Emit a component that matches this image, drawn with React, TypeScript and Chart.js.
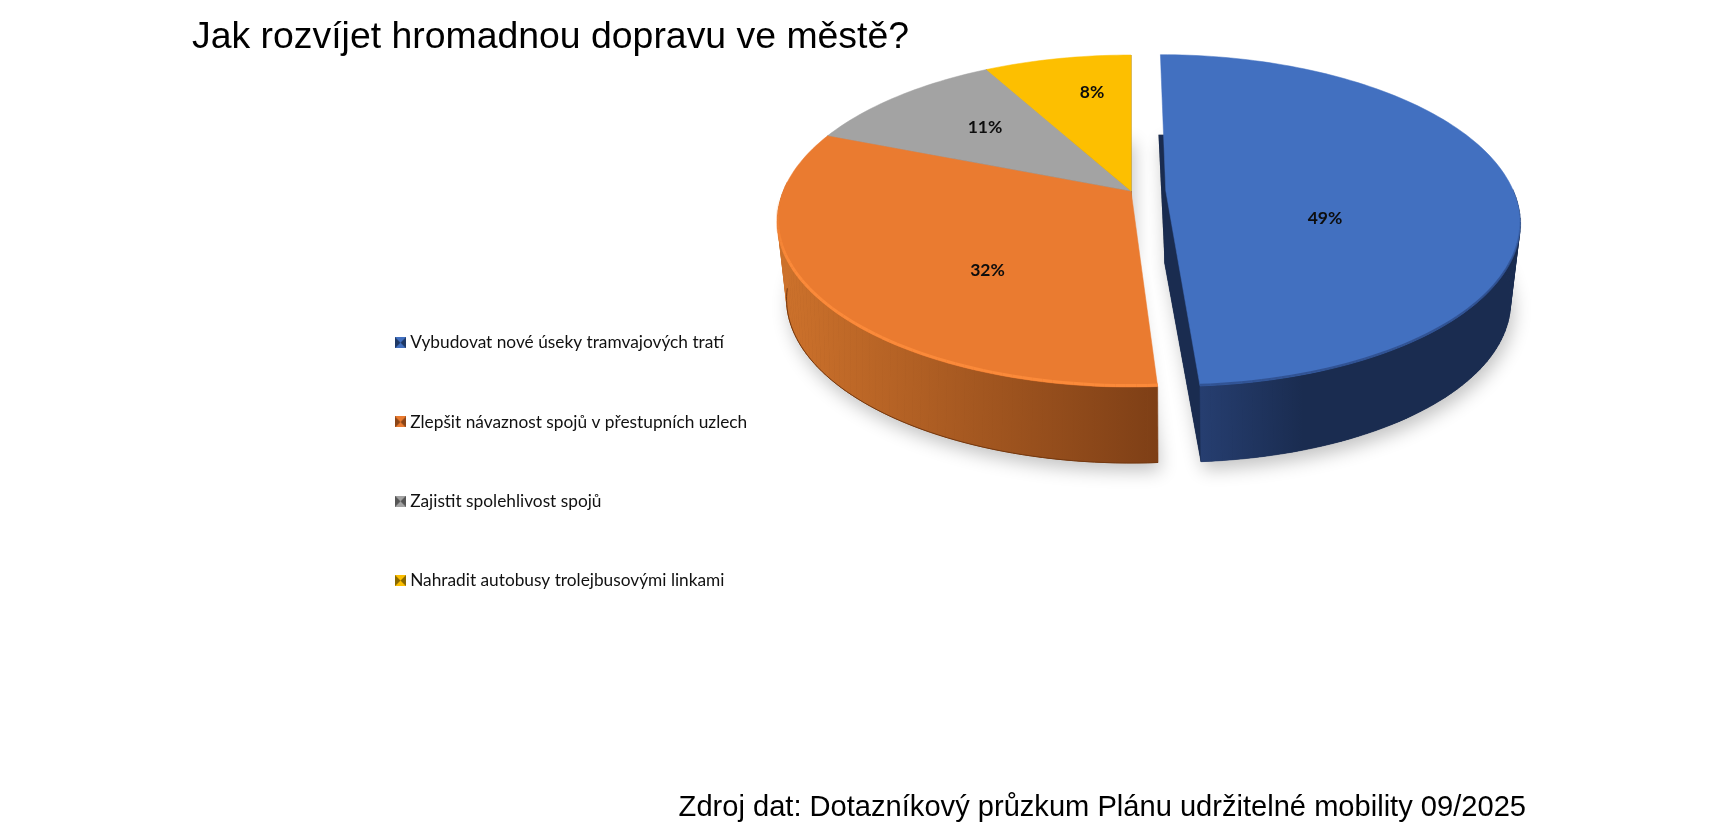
import React, { useEffect, useRef } from "react";
import { Chart, registerables } from "chart.js";

Chart.register(...registerables);

const titleText = "Jak rozvíjet hromadnou dopravu ve městě?";
const sourceText = "Zdroj dat: Dotazníkový průzkum Plánu udržitelné mobility 09/2025";
const categories = [
  "Vybudovat nové úseky tramvajových tratí",
  "Zlepšit návaznost spojů v přestupních uzlech",
  "Zajistit spolehlivost spojů",
  "Nahradit autobusy trolejbusovými linkami",
];
const shares = [49, 32, 11, 8];
const explode = [32, 0, 0, 0];

const faceColors = ["#4270C0", "#EA7B30", "#A3A3A3", "#FDBF00"];
const cutColors = ["#1A2C50", "#8A4518", "#666666", "#A07800"];
const bevelColors = ["rgba(38,64,118,0.6)", "#FB8A3A", "#A3A3A3", "#FDBF00"];
const sideStops: [number, string][][] = [
  [[0, "#263E70"], [0.33, "#1A2C50"], [1, "#1A2C50"]],
  [[0, "#CC712B"], [1, "#7E3F16"]],
  [[0, "#777777"], [1, "#555555"]],
  [[0, "#B08600"], [1, "#8A6900"]],
];
const markerEdge = ["#1F3864", "#8A4518", "#555555", "#8A6900"];
const labelNudge: [number, number][] = [[194, 27.5], [-143.5, 79.5], [-146, -64], [-39, -99]];

type Disk = { a: number; s: number; k: number; y0: number };
const VIEW_CX = 1131;
const TOP: Disk = { a: 347.7, s: 160.6, k: 0.181, y0: 191 };
const BOTTOM: Disk = { a: 336, s: 156, k: 0.22, y0: 263 };
const LEGEND_X = 399.5;
const LEGEND_Y = 334;

function project(u: number, v: number, d: Disk): [number, number] {
  const w = 1 - d.k * v;
  return [VIEW_CX + (d.a * u) / w, d.y0 + (d.s * v) / w];
}

function rim(arc: any, d: Disk, from?: number, to?: number) {
  const mid = (arc.startAngle + arc.endAngle) / 2;
  const e = (arc.options.offset || 0) / arc.outerRadius;
  const du = e * Math.cos(mid);
  const dv = e * Math.sin(mid);
  const a0 = from ?? arc.startAngle;
  const a1 = to ?? arc.endAngle;
  const n = Math.max(2, Math.ceil((a1 - a0) * 40));
  const pts: [number, number][] = [];
  for (let i = 0; i <= n; i++) {
    const a = a0 + ((a1 - a0) * i) / n;
    pts.push(project(Math.cos(a) + du, Math.sin(a) + dv, d));
  }
  return { pts, apex: project(du, dv, d) };
}

function slicePath(ctx: CanvasRenderingContext2D, arc: any, d: Disk) {
  const { pts, apex } = rim(arc, d);
  ctx.beginPath();
  ctx.moveTo(apex[0], apex[1]);
  pts.forEach((p) => ctx.lineTo(p[0], p[1]));
  ctx.closePath();
}

function quad(ctx: CanvasRenderingContext2D, a: number[], b: number[], c: number[], e: number[]) {
  ctx.beginPath();
  ctx.moveTo(a[0], a[1]);
  ctx.lineTo(b[0], b[1]);
  ctx.lineTo(c[0], c[1]);
  ctx.lineTo(e[0], e[1]);
  ctx.closePath();
  ctx.fill();
  ctx.stroke();
}

const pie3d = {
  id: "pie3d",
  beforeDraw(chart: any) {
    const legend = chart.legend;
    const pad = legend.options.labels.padding;
    const w = legend.width;
    const h = legend.height;
    legend.left = LEGEND_X - pad;
    legend.right = legend.left + w + 4;
    legend.top = LEGEND_Y - pad;
    legend.bottom = legend.top + h + 20;
  },
  beforeDatasetsDraw(chart: any) {
    const ctx: CanvasRenderingContext2D = chart.ctx;
    const arcs: any[] = chart.getDatasetMeta(0).data;
    ctx.save();
    ctx.lineJoin = "round";

    // soft shadow cast by the lower disk
    arcs.forEach((arc) => {
      ctx.save();
      ctx.shadowColor = "rgba(0,0,0,0.24)";
      ctx.shadowBlur = 18;
      ctx.shadowOffsetX = 3;
      ctx.shadowOffsetY = 8;
      ctx.fillStyle = "#888888";
      slicePath(ctx, arc, BOTTOM);
      ctx.fill();
      ctx.restore();
    });

    // walls
    [2, 3, 1, 0].forEach((i) => {
      const arc = arcs[i];
      const t = rim(arc, TOP);
      const b = rim(arc, BOTTOM);
      ctx.fillStyle = cutColors[i];
      ctx.strokeStyle = cutColors[i];
      ctx.lineWidth = 0.6;
      slicePath(ctx, arc, BOTTOM);
      ctx.fill();
      quad(ctx, t.apex, t.pts[t.pts.length - 1], b.pts[b.pts.length - 1], b.apex);

      const front = b.pts.map((p) => p[0]);
      const frontIdx = b.pts
        .map((p, k) => (p[1] > BOTTOM.y0 + 10 ? k : -1))
        .filter((k) => k >= 0);
      const xs = frontIdx.length ? frontIdx.map((k) => front[k]) : front;
      const g = ctx.createLinearGradient(Math.min(...xs), 0, Math.max(...xs), 0);
      sideStops[i].forEach(([p, c]) => g.addColorStop(p, c));
      ctx.fillStyle = g;
      ctx.strokeStyle = g;
      for (let k = 0; k < t.pts.length - 1; k++) {
        if (b.pts[k][1] < BOTTOM.y0 - 5 && t.pts[k][1] < TOP.y0 - 5) continue;
        quad(ctx, t.pts[k], t.pts[k + 1], b.pts[k + 1], b.pts[k]);
      }
      if (i === 1) {
        ctx.strokeStyle = "#74380F";
        ctx.lineWidth = 1;
        const low = rim(arc, BOTTOM, arc.startAngle, Math.PI * 0.95);
        ctx.beginPath();
        low.pts.forEach((p, k) => (k ? ctx.lineTo(p[0], p[1]) : ctx.moveTo(p[0], p[1])));
        ctx.stroke();
      }
    });

    // top faces with a tapered bevel along the front rim
    arcs.forEach((arc, i) => {
      ctx.fillStyle = faceColors[i];
      ctx.strokeStyle = faceColors[i];
      ctx.lineWidth = 0.5;
      slicePath(ctx, arc, TOP);
      ctx.fill();
      ctx.stroke();
      if (i < 2) {
        const from = i === 1 ? arc.startAngle : 0.1;
        const to = i === 1 ? Math.PI * 0.98 : arc.endAngle;
        const edge = rim(arc, TOP, from, to).pts;
        ctx.strokeStyle = bevelColors[i];
        ctx.lineWidth = i === 1 ? 3 : 2;
        ctx.lineCap = "butt";
        const inset = i === 1 ? 1.5 : 1;
        const n = edge.length - 1;
        for (let k = 0; k < n; k++) {
          const pos = k / n;
          ctx.globalAlpha = i === 1 ? Math.min(1, (1 - pos) * 4) : Math.min(1, pos * 4);
          ctx.beginPath();
          ctx.moveTo(edge[k][0], edge[k][1] - inset);
          ctx.lineTo(edge[k + 1][0], edge[k + 1][1] - inset);
          ctx.stroke();
        }
        ctx.globalAlpha = 1;
      }
    });

    // percentage labels
    ctx.fillStyle = "#0d0d0d";
    ctx.font = "bold 17.5px Lato";
    ctx.textAlign = "center";
    ctx.textBaseline = "middle";
    arcs.forEach((_arc, i) => {
      const [dx, dy] = labelNudge[i];
      ctx.fillText(`${shares[i]}%`, VIEW_CX + dx, TOP.y0 + dy);
    });
    ctx.restore();
    return false;
  },
};

function marker(i: number): HTMLCanvasElement {
  const c = document.createElement("canvas");
  c.width = 11;
  c.height = 11;
  const x = c.getContext("2d")!;
  x.fillStyle = faceColors[i];
  x.fillRect(0, 0, 11, 11);
  x.fillStyle = markerEdge[i];
  x.beginPath();
  x.moveTo(0, 0);
  x.lineTo(5.5, 5.5);
  x.lineTo(0, 11);
  x.closePath();
  x.moveTo(11, 0);
  x.lineTo(5.5, 5.5);
  x.lineTo(11, 11);
  x.closePath();
  x.fill();
  return c;
}

export default function App() {
  const ref = useRef<HTMLCanvasElement>(null);
  useEffect(() => {
    const chart = new Chart(ref.current!, {
      type: "pie",
      data: {
        labels: categories,
        datasets: [{ data: shares, backgroundColor: faceColors, offset: explode, borderWidth: 0 }],
      },
      options: {
        animation: false,
        responsive: false,
        devicePixelRatio: 1,
        radius: 320,
        layout: { padding: { top: 4, left: 192, right: 199, bottom: 4 } },
        plugins: {
          tooltip: { enabled: false },
          title: {
            display: true,
            text: titleText,
            align: "start",
            color: "#000000",
            font: { family: '"Liberation Sans"', size: 37.4, weight: "normal" },
            padding: { top: 11.5, bottom: 6 },
          },
          subtitle: {
            display: true,
            position: "bottom",
            text: sourceText,
            align: "end",
            color: "#000000",
            font: { family: '"Liberation Sans"', size: 29.1, weight: "normal" },
            padding: { top: 6, bottom: 11 },
          },
          legend: {
            display: true,
            position: "left",
            align: "start",
            labels: {
              color: "#111111",
              font: { family: "Lato", size: 17.3 },
              padding: 62,
              boxWidth: 2,
              usePointStyle: true,
              pointStyleWidth: 2,
              generateLabels: () =>
                categories.map((text, index) => ({
                  text,
                  index,
                  fillStyle: faceColors[index],
                  strokeStyle: faceColors[index],
                  lineWidth: 0,
                  fontColor: "#111111",
                  pointStyle: marker(index),
                })),
            },
          },
        },
      } as any,
      plugins: [pie3d as any],
    });
    return () => chart.destroy();
  }, []);
  return (
    <div style={{ position: "fixed", left: 0, top: 0, width: 1725, height: 840, background: "#ffffff" }}>
      <canvas ref={ref} width={1725} height={840} style={{ display: "block", width: 1725, height: 840 }} />
    </div>
  );
}
